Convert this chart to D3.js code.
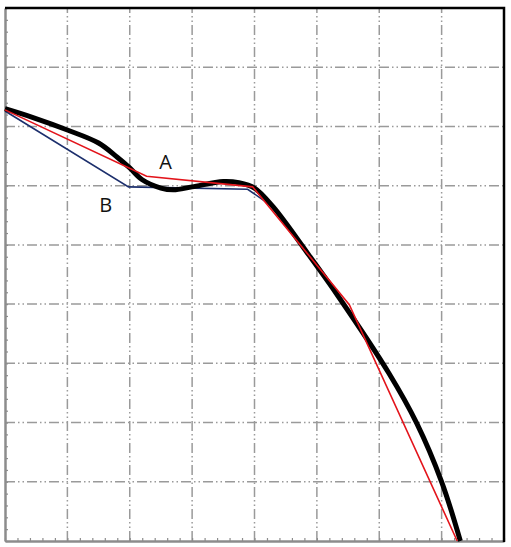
<!DOCTYPE html>
<html>
<head>
<meta charset="utf-8">
<script src="https://cdn.jsdelivr.net/npm/d3@7"></script>
<style>
  body { margin: 0; background: #fff; }
  .grid line { stroke: #9a9a9a; stroke-width: 1.5; stroke-dasharray: 10,3,1.5,3,1.5,3; }
  .axis path, .axis line { stroke: #8c8c8c; }
  .axis path { stroke-width: 2.5; }
  .axis line { stroke-width: 1.2; }
  .label { font-family: 'Open Sans', sans-serif; font-size: 20px; fill: #111; }
</style>
</head>
<body>
<svg id="chart" width="511" height="547"></svg>
<script>
// curve (x from 0 to 8, y from 0 to 9)
const curveX = [0, 0.45, 1, 1.5, 1.8, 2, 2.2, 2.5, 2.7, 3, 3.5, 3.75, 4, 4.3, 4.85, 5.35, 6.15, 6.6, 7, 7.3];
const curveY = [7.3, 7.15, 6.94, 6.72, 6.48, 6.3, 6.1, 5.96, 5.93, 5.98, 6.07, 6.05, 5.96, 5.64, 4.86, 4.12, 2.84, 1.99, 1.0, 0];

const lineAX = [0, 2.27, 3.97, 5.52, 7.25];
const lineAY = [7.28, 6.16, 5.98, 3.99, 0];

const lineBX = [0, 1.98, 3.89, 4.3, 4.85, 5.35, 6.15, 6.6, 7, 7.3];
const lineBY = [7.26, 5.98, 5.94, 5.64, 4.86, 4.12, 2.84, 1.99, 1.0, 0];

const labels = [
  { text: 'A', x: 2.576, y: 6.28 },
  { text: 'B', x: 1.616, y: 5.555 }
];

const xMax = 8;
const yMax = 9;

const svg = d3.select('#chart');
const plotLeft = 5, plotRight = 504, plotTop = 8, plotBottom = 541;

const x = d3.scaleLinear().domain([0, xMax]).range([plotLeft, plotRight]);
const y = d3.scaleLinear().domain([0, yMax]).range([plotBottom, plotTop]);

const zip = (xs, ys) => xs.map((v, i) => [v, ys[i]]);

// grid
const grid = svg.append('g').classed('grid', true);
grid.selectAll('.vline')
  .data(d3.range(1, xMax))
  .enter().append('line')
  .attr('x1', d => x(d)).attr('x2', d => x(d))
  .attr('y1', y(0)).attr('y2', y(yMax));
grid.selectAll('.hline')
  .data(d3.range(1, yMax))
  .enter().append('line')
  .attr('y1', d => y(d)).attr('y2', d => y(d))
  .attr('x1', x(0)).attr('x2', x(xMax));

// axes with small inward ticks
const minorX = d3.range(0, xMax + 0.001, 0.2);
const minorY = d3.range(0, yMax + 0.001, 0.2);

svg.append('g')
  .classed('axis', true)
  .attr('transform', `translate(0,${plotBottom})`)
  .call(d3.axisBottom(x).tickValues(minorX).tickSize(-3).tickSizeOuter(0).tickFormat(''));

svg.append('g')
  .classed('axis', true)
  .attr('transform', `translate(${plotLeft},0)`)
  .call(d3.axisLeft(y).tickValues(minorY).tickSize(-3).tickSizeOuter(0).tickFormat(''));

// black frame top and right
svg.append('path')
  .attr('d', `M${plotLeft},${plotTop}H${plotRight}V${plotBottom + 1}`)
  .attr('fill', 'none')
  .attr('stroke', '#000')
  .attr('stroke-width', 2.5);

const linear = d3.line()
  .x(d => x(d[0]))
  .y(d => y(d[1]));

const smooth = d3.line()
  .x(d => x(d[0]))
  .y(d => y(d[1]))
  .curve(d3.curveCatmullRom.alpha(0.5));

svg.append('path')
  .attr('d', linear(zip(lineBX, lineBY)))
  .attr('fill', 'none')
  .attr('stroke', '#1c2f6c')
  .attr('stroke-width', 1.6);

svg.append('path')
  .attr('d', smooth(zip(curveX, curveY)))
  .attr('fill', 'none')
  .attr('stroke', '#000')
  .attr('stroke-width', 5)
  .attr('stroke-linejoin', 'round');

svg.append('path')
  .attr('d', linear(zip(lineAX, lineAY)))
  .attr('fill', 'none')
  .attr('stroke', '#e3141b')
  .attr('stroke-width', 1.6);

svg.selectAll('.label')
  .data(labels)
  .enter().append('text')
  .classed('label', true)
  .attr('x', d => x(d.x))
  .attr('y', d => y(d.y))
  .attr('text-anchor', 'middle')
  .text(d => d.text);
</script>
</body>
</html>
